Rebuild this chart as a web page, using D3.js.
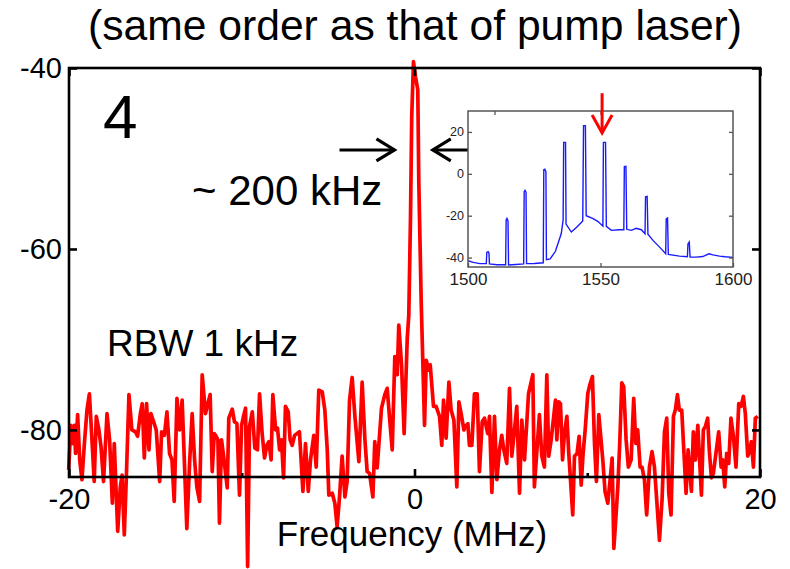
<!DOCTYPE html>
<html>
<head>
<meta charset="utf-8">
<script src="https://cdn.jsdelivr.net/npm/d3@7"></script>
<style>
  body { margin: 0; background: #fff; }
  svg text { font-family: "Liberation Sans", Arial, sans-serif; }
</style>
</head>
<body>
<svg id="chart" width="790" height="569"></svg>
<script>
// beat note spectrum, frequency (MHz) vs level (dBm)
var spectrum = [
  [-20.02,-84.4],[-19.89,-79.5],[-19.77,-81.5],[-19.69,-79.5],[-19.62,-82.6],[-19.50,-78.3],[-19.38,-83.3],[-19.25,-85.5],
  [-19.11,-81.5],[-18.96,-77.8],[-18.82,-76.0],[-18.69,-80.4],[-18.54,-85.7],[-18.42,-78.5],[-18.27,-80.0],[-18.15,-81.8],
  [-18.00,-85.7],[-17.80,-78.2],[-17.65,-81.1],[-17.49,-88.1],[-17.38,-81.5],[-17.18,-91.2],[-17.03,-86.3],[-16.93,-85.0],
  [-16.80,-91.6],[-16.68,-85.2],[-16.53,-76.1],[-16.36,-80.0],[-16.16,-80.2],[-16.03,-80.7],[-15.87,-78.2],[-15.76,-77.1],
  [-15.64,-83.1],[-15.51,-77.1],[-15.37,-82.2],[-15.26,-78.2],[-15.10,-79.1],[-14.95,-80.0],[-14.75,-85.7],[-14.64,-80.2],
  [-14.48,-80.6],[-14.33,-78.0],[-14.18,-82.6],[-14.04,-83.3],[-13.91,-87.9],[-13.75,-76.5],[-13.60,-80.0],[-13.45,-76.7],
  [-13.18,-90.9],[-13.02,-83.7],[-12.87,-78.2],[-12.73,-83.3],[-12.60,-86.3],[-12.44,-87.9],[-12.29,-73.9],[-12.10,-78.2],
  [-11.96,-77.1],[-11.83,-76.1],[-11.71,-84.6],[-11.59,-80.4],[-11.48,-80.7],[-11.38,-81.1],[-11.29,-90.3],[-11.17,-81.1],
  [-11.05,-82.9],[-10.84,-86.4],[-10.75,-78.7],[-10.55,-77.7],[-10.42,-79.1],[-10.28,-79.3],[-10.13,-87.2],[-10.01,-79.5],
  [-9.90,-78.5],[-9.78,-77.6],[-9.66,-95.1],[-9.55,-79.6],[-9.39,-78.0],[-9.24,-82.0],[-9.09,-82.2],[-8.97,-76.0],
  [-8.82,-80.4],[-8.68,-83.1],[-8.55,-81.7],[-8.43,-81.3],[-8.30,-83.3],[-8.20,-76.1],[-8.04,-80.0],[-7.93,-79.8],
  [-7.81,-82.2],[-7.70,-81.1],[-7.58,-85.3],[-7.47,-77.4],[-7.31,-78.0],[-7.20,-81.1],[-7.08,-81.7],[-6.94,-80.6],
  [-6.66,-80.2],[-6.46,-86.8],[-6.31,-81.5],[-6.15,-86.8],[-6.02,-83.3],[-5.83,-80.6],[-5.69,-84.1],[-5.54,-75.6],
  [-5.34,-75.8],[-5.19,-77.8],[-5.05,-82.2],[-4.96,-87.2],[-4.76,-87.0],[-4.61,-88.1],[-4.48,-90.7],[-4.34,-87.4],
  [-4.19,-82.9],[-4.03,-87.4],[-3.90,-85.7],[-3.76,-76.7],[-3.61,-74.2],[-3.45,-78.5],[-3.22,-83.5],[-3.03,-74.7],
  [-2.87,-81.1],[-2.74,-84.6],[-2.60,-84.8],[-2.41,-87.4],[-2.30,-81.3],[-2.16,-84.2],[-1.91,-77.6],[-1.72,-76.1],
  [-1.58,-75.4],[-1.45,-78.5],[-1.29,-82.2],[-1.14,-71.9],[-1.00,-73.9],[-0.91,-68.4],[-0.75,-72.8],[-0.60,-80.4],
  [-0.42,-69.9],[-0.33,-67.3],[-0.23,-56.4],[-0.16,-45.4],[-0.06,-39.3],[0.06,-41.0],[0.19,-42.4],[0.25,-52.7],
  [0.39,-66.0],[0.58,-79.5],[0.68,-72.3],[0.81,-73.4],[0.91,-72.8],[1.10,-77.4],[1.25,-77.4],[1.45,-78.5],
  [1.58,-81.7],[1.68,-76.7],[1.83,-80.9],[1.99,-74.7],[2.12,-77.8],[2.28,-78.9],[2.45,-86.3],[2.57,-76.9],
  [2.70,-78.2],[2.86,-80.0],[2.95,-79.6],[3.09,-79.3],[3.18,-81.7],[3.32,-81.7],[3.47,-76.0],[3.63,-76.0],
  [3.76,-84.6],[3.92,-79.1],[4.05,-78.7],[4.24,-80.4],[4.34,-78.5],[4.48,-86.9],[4.63,-78.5],[4.77,-85.5],
  [4.92,-82.2],[5.05,-80.6],[5.17,-82.2],[5.34,-83.7],[5.50,-75.4],[5.63,-82.9],[5.79,-80.0],[5.92,-77.4],
  [6.08,-87.0],[6.21,-78.9],[6.37,-83.3],[6.60,-76.0],[6.85,-73.9],[6.94,-86.3],[7.23,-78.3],[7.37,-82.9],
  [7.52,-84.1],[7.66,-73.9],[7.77,-82.9],[7.91,-81.1],[8.16,-76.7],[8.24,-81.1],[8.35,-76.9],[8.45,-77.1],
  [8.57,-83.3],[8.68,-80.4],[8.82,-78.5],[8.93,-82.6],[9.03,-85.5],[9.16,-89.4],[9.26,-82.9],[9.41,-82.6],
  [9.53,-80.7],[9.65,-86.1],[9.76,-82.6],[9.88,-80.0],[10.03,-76.0],[10.15,-75.0],[10.30,-74.1],[10.42,-81.5],
  [10.53,-85.7],[10.67,-78.3],[10.90,-83.3],[11.03,-86.8],[11.19,-88.1],[11.34,-85.2],[11.44,-83.1],[11.54,-93.1],
  [11.65,-89.9],[11.77,-86.3],[11.88,-81.5],[12.00,-74.8],[12.11,-75.2],[12.25,-81.1],[12.38,-84.1],[12.54,-83.3],
  [12.69,-76.5],[12.81,-81.5],[12.92,-80.0],[13.06,-84.1],[13.17,-84.1],[13.31,-85.5],[13.44,-89.4],[13.60,-84.1],
  [13.75,-82.4],[13.89,-84.1],[14.02,-87.7],[14.18,-92.2],[14.33,-87.7],[14.47,-80.2],[14.60,-78.7],[14.72,-87.0],
  [14.85,-89.4],[14.99,-78.5],[15.10,-77.8],[15.22,-76.1],[15.33,-77.8],[15.47,-77.8],[15.57,-81.5],[15.72,-87.0],
  [15.84,-82.2],[16.03,-86.8],[16.14,-80.2],[16.26,-83.3],[16.40,-79.5],[16.61,-87.2],[16.72,-80.0],[16.84,-79.6],
  [16.97,-78.7],[17.07,-82.4],[17.19,-85.3],[17.30,-84.8],[17.61,-80.2],[17.75,-84.1],[17.84,-83.3],[17.96,-86.3],
  [18.07,-82.6],[18.19,-83.7],[18.32,-78.7],[18.46,-80.7],[18.61,-84.1],[18.77,-77.1],[18.90,-77.4],[19.04,-76.3],
  [19.15,-78.2],[19.29,-82.9],[19.39,-82.4],[19.50,-81.3],[19.62,-84.1],[19.73,-78.7],[19.87,-78.5]
];

// inset: optical comb spectrum, wavelength (nm) vs power (dBm)
var combTrace = [
  [1500.0,-41.5],[1502,-42.3],[1504.5,-42.9],[1506.9,-42.9],[1507.1,-37.5],[1507.6,-37.2],[1507.9,-37.8],[1508.1,-43.0],
  [1511,-43.4],[1514.2,-43.4],[1514.4,-22],[1514.7,-21.3],[1515.1,-22.5],[1515.3,-43.5],[1518,-43.3],[1521.0,-43.0],
  [1521.2,-8.5],[1521.5,-7.9],[1521.9,-8.8],[1522.1,-42.9],[1525,-42.8],[1528.4,-42.5],[1528.6,2.0],[1529.0,2.2],
  [1529.4,1.0],[1529.6,-41.0],[1531,-40.6],[1533,-37],[1535.2,-28.5],[1535.9,-22],[1536.1,15],[1536.8,15],
  [1537.0,-24],[1539.0,-27.8],[1541,-25.5],[1543.3,-22.5],[1543.6,23],[1544.3,23],[1544.6,-20],[1547.2,-21.4],
  [1549.1,-22.8],[1550.9,-25],[1551.1,15],[1551.9,15],[1552.2,-25.1],[1554.1,-27],[1557,-26.7],[1558.8,-26.7],
  [1559.0,3.5],[1559.6,3.6],[1559.9,-26.5],[1561.6,-27],[1563.5,-26],[1565.4,-26.7],[1566.8,-28.6],[1567.0,-11],
  [1567.6,-10.8],[1567.9,-28.8],[1569.8,-31.8],[1572.3,-35],[1574.6,-38.2],[1574.8,-21.5],[1575.3,-21.1],[1575.6,-38.5],
  [1579.8,-39.3],[1582.8,-39.6],[1583.0,-33.5],[1583.5,-32.6],[1583.8,-39.7],[1586,-39.8],[1588.6,-39.5],[1590.9,-38.2],
  [1592.4,-38.7],[1594.9,-39.3],[1597,-39.6],[1600,-39.9]
];

var xTicks = [-20, 0, 20];
var xMinorTicks = [-10, 10];
var yTicks = [-40, -60, -80];
var insetXTicks = [1500, 1550, 1600];
var insetYTicks = [20, 0, -20, -40];

var titleText = "(same order as that of pump laser)";
var xLabel = "Frequency (MHz)";

// plain hyphen minus like the original figure
var fmt = function(d){ return String(d) };

var svg = d3.select("#chart");

var x = d3.scaleLinear().domain([-20, 20]).range([69, 760]);
var y = d3.scaleLinear().domain([-85.2, -40]).range([477, 68]);

// title
svg.append("text")
    .attr("x", 415).attr("y", 40)
    .attr("text-anchor", "middle")
    .attr("textLength", 654).attr("lengthAdjust", "spacingAndGlyphs")
    .style("font-size", "43px")
    .text(titleText);

// red trace
var line = d3.line().x(function(d){ return x(d[0]) }).y(function(d){ return y(d[1]) });
svg.append("path")
    .datum(spectrum)
    .attr("d", line)
    .attr("fill", "none")
    .attr("stroke", "#ff0000")
    .attr("stroke-width", 3.7)
    .attr("stroke-linejoin", "round");

// frame
svg.append("rect")
    .attr("x", x(-20)).attr("y", y(-40))
    .attr("width", x(20) - x(-20)).attr("height", y(-85.2) - y(-40))
    .attr("fill", "none").attr("stroke", "#000").attr("stroke-width", 2.6);

function styleAxis(g, size) {
    g.select(".domain").remove();
    g.attr("font-family", null);
    g.selectAll(".tick line").attr("stroke", "#000").attr("stroke-width", 2.6);
    g.selectAll(".tick text").attr("fill", "#000").style("font-size", size);
}

svg.append("g").attr("transform", "translate(0," + y(-85.2) + ")")
    .call(d3.axisBottom(x).tickValues(xTicks).tickSize(-8).tickPadding(11).tickFormat(fmt))
    .call(styleAxis, "29px");
svg.append("g").attr("transform", "translate(0," + y(-85.2) + ")")
    .call(d3.axisBottom(x).tickValues(xMinorTicks).tickSize(-4).tickFormat(""))
    .call(styleAxis, "29px");
svg.append("g").attr("transform", "translate(0," + y(-40) + ")")
    .call(d3.axisBottom(x).tickValues(xTicks).tickSize(8).tickFormat(""))
    .call(styleAxis, "29px");
svg.append("g").attr("transform", "translate(" + x(-20) + ",0)")
    .call(d3.axisLeft(y).tickValues(yTicks).tickSize(-8).tickPadding(7).tickFormat(fmt))
    .call(styleAxis, "29px");
svg.append("g").attr("transform", "translate(" + x(20) + ",0)")
    .call(d3.axisLeft(y).tickValues(yTicks).tickSize(8).tickFormat(""))
    .call(styleAxis, "29px");

// x label
svg.append("text")
    .attr("x", 412).attr("y", 546)
    .attr("text-anchor", "middle")
    .style("font-size", "35px")
    .text(xLabel);

// annotations
svg.append("text").attr("x", 103).attr("y", 138).style("font-size", "62px").text("4");
svg.append("text").attr("x", 192).attr("y", 205).style("font-size", "42px").text("~ 200 kHz");
svg.append("text").attr("x", 107).attr("y", 356).style("font-size", "37px").text("RBW 1 kHz");

// linewidth arrows
function arrow(x1, x2, yv, color, w) {
    var g = svg.append("g").attr("stroke", color).attr("stroke-width", w).attr("fill", "none");
    var dir = x2 > x1 ? -1 : 1;
    g.append("line").attr("x1", x(x1)).attr("x2", x(x2)).attr("y1", y(yv)).attr("y2", y(yv));
    g.append("polyline").attr("points",
        [[x(x2) + dir * 18, y(yv) - 11], [x(x2), y(yv)], [x(x2) + dir * 18, y(yv) + 11]].join(" "));
}
arrow(-4.34, -1.16, -49.06, "#000", 3.2);
arrow(4.15, 1.06, -49.06, "#000", 3.2);

// inset
var ix = d3.scaleLinear().domain([1500, 1600]).range([468, 733]);
var iy = d3.scaleLinear().domain([-44.5, 30]).range([267, 111]);

svg.append("rect")
    .attr("x", ix(1500)).attr("y", iy(30))
    .attr("width", ix(1600) - ix(1500)).attr("height", iy(-44.5) - iy(30))
    .attr("fill", "#fff");

var iline = d3.line().x(function(d){ return ix(d[0]) }).y(function(d){ return iy(d[1]) });
svg.append("path")
    .datum(combTrace)
    .attr("d", iline)
    .attr("fill", "none")
    .attr("stroke", "#1a1aff")
    .attr("stroke-width", 1.4);

svg.append("rect")
    .attr("x", ix(1500)).attr("y", iy(30))
    .attr("width", ix(1600) - ix(1500)).attr("height", iy(-44.5) - iy(30))
    .attr("fill", "none").attr("stroke", "#555").attr("stroke-width", 1.5);

function styleInset(g, size) {
    g.select(".domain").remove();
    g.attr("font-family", null);
    g.selectAll(".tick line").attr("stroke", "#555").attr("stroke-width", 1.3);
    g.selectAll(".tick text").attr("fill", "#222").style("font-size", size);
}
svg.append("g").attr("transform", "translate(0," + iy(-44.5) + ")")
    .call(d3.axisBottom(ix).tickValues(insetXTicks).tickSize(-4).tickPadding(6).tickFormat(fmt))
    .call(styleInset, "17px");
svg.append("g").attr("transform", "translate(0," + iy(30) + ")")
    .call(d3.axisBottom(ix).tickValues([1510, 1550]).tickSize(4).tickFormat(""))
    .call(styleInset, "17px");
svg.append("g").attr("transform", "translate(" + ix(1500) + ",0)")
    .call(d3.axisLeft(iy).tickValues(insetYTicks).tickSize(-4).tickPadding(4).tickFormat(fmt))
    .call(styleInset, "12.5px");
svg.append("g").attr("transform", "translate(" + ix(1600) + ",0)")
    .call(d3.axisLeft(iy).tickValues(insetYTicks).tickSize(4).tickFormat(""))
    .call(styleInset, "12.5px");

// pump arrow in inset
var pa = svg.append("g").attr("stroke", "#ff0000").attr("stroke-width", 3).attr("fill", "none");
pa.append("line").attr("x1", ix(1550.6)).attr("x2", ix(1550.6)).attr("y1", iy(38.5)).attr("y2", iy(19.5));
pa.append("polyline").attr("points",
    [[ix(1550.6) - 10, iy(19.5) - 18], [ix(1550.6), iy(19.5)], [ix(1550.6) + 10, iy(19.5) - 18]].join(" "));
</script>
</body>
</html>
